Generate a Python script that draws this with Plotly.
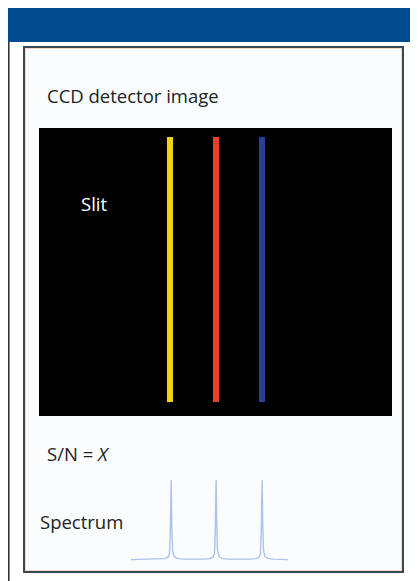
import plotly.graph_objects as go

# page body has an 8px default margin, so the figure is sized to fill the rest of the window
OFF = 8
W, H = 418 - OFF, 581 - OFF

# ---- data ----
slit_names = ["Yellow", "Red", "Blue"]
slit_positions = [170, 216, 262]          # detector column (same scale as spectrum)
slit_bottom = [0.05, 0.05, 0.05]
slit_heights = [0.92, 0.92, 0.92]
slit_colors = ["#f2d313", "#e8402b", "#2c3f98"]

spectrum_x = [131, 150, 160, 165, 168, 169.5, 170.3, 170.8, 171.2, 171.7, 172.5, 174, 177, 182,
              193, 205, 210, 213, 214.5, 215.3, 215.8, 216.2, 216.7, 217.5, 219, 222, 227,
              239, 251, 256, 259, 260.5, 261.3, 261.8, 262.2, 262.7, 263.5, 265, 268, 273, 288]
spectrum_y = [0.0, 0.003, 0.006, 0.012, 0.03, 0.08, 0.35, 0.8, 1.0, 0.45, 0.12, 0.04, 0.015, 0.006,
              0.003, 0.006, 0.012, 0.03, 0.08, 0.35, 0.8, 1.0, 0.45, 0.12, 0.04, 0.015, 0.006,
              0.003, 0.006, 0.012, 0.03, 0.08, 0.35, 0.8, 1.0, 0.45, 0.12, 0.04, 0.015, 0.006, 0.0]

labels = {"title": "CCD detector image", "slit": "Slit", "sn": "S/N = <i>X</i>", "spectrum": "Spectrum"}


def px(x):
    return max(0.0, (x - OFF) / W)


def py(y):
    return min(1.0, 1 - (y - OFF) / H)


fig = go.Figure()

fig.add_trace(go.Bar(
    x=slit_positions, y=slit_heights, base=slit_bottom, width=6,
    marker=dict(color=slit_colors, line=dict(width=0)),
    name="Slit", hoverinfo="x", xaxis="x", yaxis="y",
))

fig.add_trace(go.Scatter(
    x=spectrum_x, y=spectrum_y, mode="lines",
    line=dict(color="rgba(120,158,225,0.6)", width=1.4),
    name="Spectrum", xaxis="x2", yaxis="y2",
))

axis_common = dict(visible=False, fixedrange=True, showgrid=False, zeroline=False)

fig.update_layout(
    width=W, height=H,
    margin=dict(l=0, r=0, t=0, b=0),
    paper_bgcolor="white",
    plot_bgcolor="rgba(0,0,0,0)",
    showlegend=False,
    bargap=0,
    xaxis=dict(domain=[px(39), px(392)], range=[39, 392], anchor="y", **axis_common),
    yaxis=dict(domain=[py(416), py(128)], range=[0, 1], anchor="x", **axis_common),
    xaxis2=dict(domain=[px(39), px(392)], range=[39, 392], anchor="y2", **axis_common),
    yaxis2=dict(domain=[py(562), py(480)], range=[-0.03, 1.0], anchor="x2", **axis_common),
    font=dict(family="Open Sans", color="#222222"),
)

shapes = [
    # header band
    dict(type="rect", xref="paper", yref="paper", x0=px(7), x1=1, y0=py(42), y1=py(8),
         fillcolor="#004a8e", line=dict(width=0), layer="below"),
    # left rule
    dict(type="line", xref="paper", yref="paper", x0=px(8.8), x1=px(8.8), y0=0, y1=py(42),
         line=dict(color="#2b2b2b", width=1.5), layer="below"),
    # inner panel
    dict(type="rect", xref="paper", yref="paper", x0=px(24), x1=px(403), y0=py(572), y1=py(47),
         fillcolor="#fbfcfe", line=dict(color="#3a4a50", width=2), layer="below"),
    dict(type="rect", xref="paper", yref="paper", x0=px(25.5), x1=px(401.5), y0=py(570.5), y1=py(48.5),
         fillcolor="rgba(0,0,0,0)", line=dict(color="rgba(235,180,150,0.5)", width=1), layer="below"),
    # CCD image background
    dict(type="rect", xref="x domain", yref="y domain", x0=0, x1=1, y0=0, y1=1,
         fillcolor="black", line=dict(width=0), layer="below"),
]
fig.update_layout(shapes=shapes)

ann = [
    dict(text=labels["title"], x=px(45), y=py(95), color="#222222"),
    dict(text=labels["slit"], x=px(79), y=py(203), color="white"),
    dict(text=labels["sn"], x=px(45), y=py(453), color="#222222"),
    dict(text=labels["spectrum"], x=px(38), y=py(521), color="#222222"),
]
for a in ann:
    fig.add_annotation(text=a["text"], x=a["x"], y=a["y"], xref="paper", yref="paper",
                       xanchor="left", yanchor="middle", showarrow=False,
                       font=dict(family="Open Sans", size=18.5, color=a["color"]))

fig.write_html("out.html")
